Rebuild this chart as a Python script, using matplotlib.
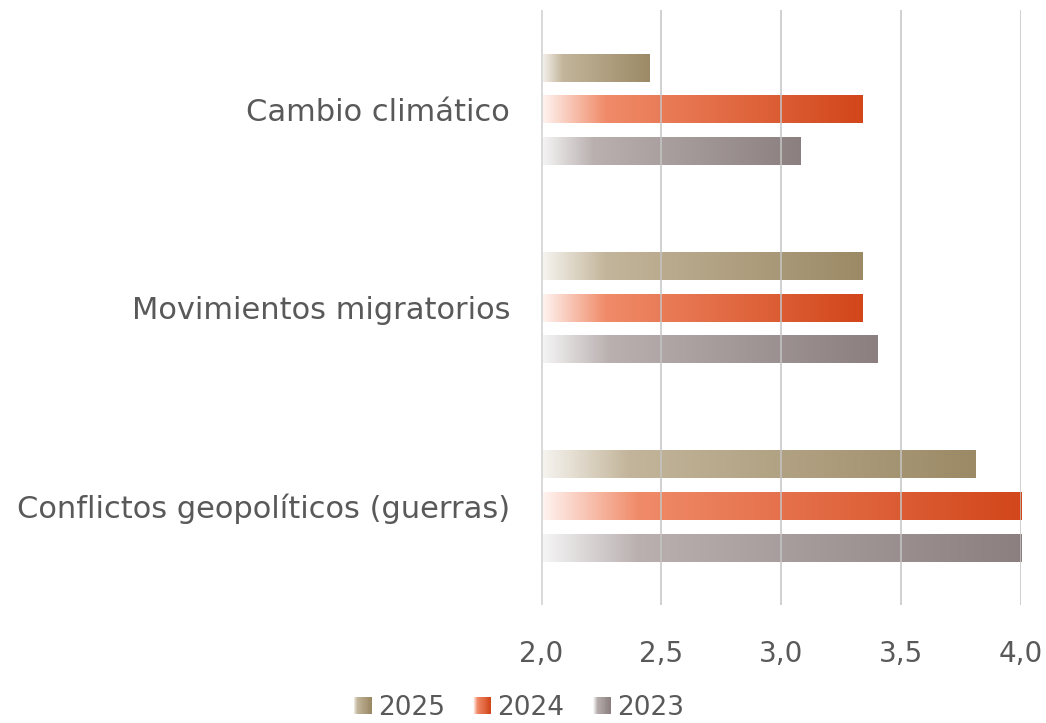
import numpy as np
import matplotlib
matplotlib.use("Agg")
import matplotlib.pyplot as plt
from matplotlib.colors import LinearSegmentedColormap
from matplotlib.patches import Rectangle
from matplotlib.legend_handler import HandlerBase

# data, top to bottom
categories = ["Cambio climático", "Movimientos migratorios", "Conflictos geopolíticos (guerras)"]
series = ["2025", "2024", "2023"]
values = {
    "2025": [2.45, 3.34, 3.81],
    "2024": [3.34, 3.34, 4.01],
    "2023": [3.08, 3.40, 4.01],
}
xticks = [2.0, 2.5, 3.0, 3.5, 4.0]
xtick_labels = ["2,0", "2,5", "3,0", "3,5", "4,0"]

# gradient colours: (start, light, full)
COLORS = {
    "2025": ("#f7f5f1", "#c3b59b", "#9c8a66"),
    "2024": ("#fff5f2", "#f08b69", "#d2461a"),
    "2023": ("#f6f6f6", "#bab0b0", "#8b7f7f"),
}
TEXT = "#595959"
BAR_H = 0.14
OFFSET = 0.21


def make_cmap(name):
    c0, c1, c2 = COLORS[name]
    return LinearSegmentedColormap.from_list(name, [(0, c0), (0.2, c1), (1, c2)])


class GradientHandler(HandlerBase):
    def __init__(self, name):
        super().__init__()
        self.cmap = make_cmap(name)

    def create_artists(self, legend, orig_handle, xdescent, ydescent, width, height, fontsize, trans):
        n = 20
        size = height * 0.95
        x0 = -xdescent + width - size
        artists = []
        for i in range(n):
            r = Rectangle((x0 + i * size / n, -ydescent + (height - size) / 2), size / n + 0.3, size,
                          facecolor=self.cmap(i / (n - 1)), edgecolor="none", transform=trans)
            artists.append(r)
        return artists


plt.rcParams["font.family"] = ["DejaVu Sans"]

fig = plt.figure(figsize=(10.46, 7.23), dpi=100)
ax = fig.add_axes([0.517, 0.163, 0.459, 0.823])

ypos = np.arange(len(categories))
grad = np.linspace(0, 1, 256).reshape(1, -1)
for j, name in enumerate(series):
    cmap = make_cmap(name)
    for i, v in enumerate(values[name]):
        yc = ypos[i] + (j - 1) * OFFSET
        ax.imshow(grad, cmap=cmap, aspect="auto", interpolation="bilinear",
                  extent=[2.0, v, yc + BAR_H / 2, yc - BAR_H / 2], zorder=2)

ax.set_xlim(2.0, 4.0)
ax.set_ylim(2.5, -0.5)
ax.set_xticks(xticks)
ax.set_xticklabels(xtick_labels)
ax.set_yticks(ypos)
ax.set_yticklabels(categories)
ax.tick_params(length=0, labelcolor=TEXT)
ax.tick_params(axis="x", pad=25, labelsize=20)
ax.tick_params(axis="y", pad=22, labelsize=22)

for x in xticks[1:]:
    ax.axvline(x, color="#c4c4c4", lw=1.4, alpha=0.8, zorder=3)
ax.axvline(2.0, color="#d9d9d9", lw=2.8, zorder=3)
for s in ax.spines.values():
    s.set_visible(False)

handles = [Rectangle((0, 0), 1, 1) for _ in series]
leg = fig.legend(handles, series, loc="lower center", bbox_to_anchor=(0.495, -0.03), ncol=3,
                 frameon=False, fontsize=19, handlelength=0.75, handletextpad=0.25, columnspacing=1.0,
                 handler_map={h: GradientHandler(n) for h, n in zip(handles, series)})
for t in leg.get_texts():
    t.set_color(TEXT)

fig.savefig("out.png", dpi=100)
